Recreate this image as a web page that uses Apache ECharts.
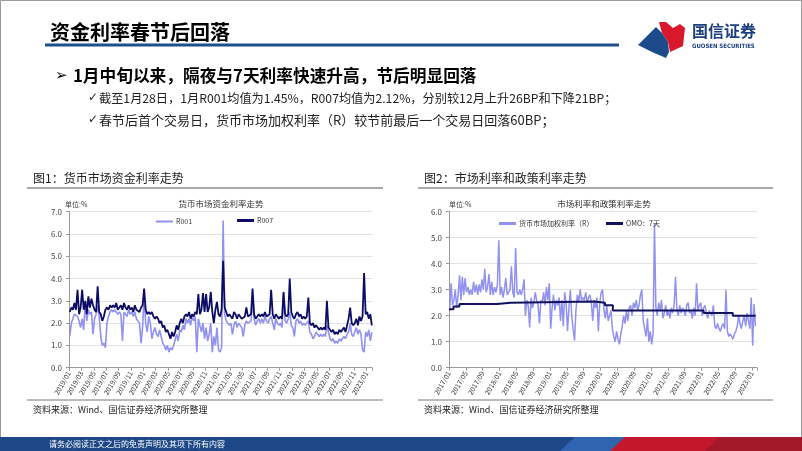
<!DOCTYPE html>
<html><head><meta charset="utf-8">
<script src="https://cdn.jsdelivr.net/npm/echarts@6/dist/echarts.min.js"></script>
<style>html,body{margin:0;padding:0;background:#fff}#c{width:802px;height:451px}</style>
</head><body><div id="c"></div>
<script>
// ---------- Data ----------
// Chart 1: 2019/01 - 2023/01, 4 readings per month
const ticks1 = ['2019/01','2019/03','2019/05','2019/07','2019/09','2019/11','2020/01','2020/03','2020/05','2020/07','2020/09','2020/11','2021/01','2021/03','2021/05','2021/07','2021/09','2021/11','2022/01','2022/03','2022/05','2022/07','2022/09','2022/11','2023/01'];
const r001 = [
 1.4,2.0,2.2,2.4, 2.4,2.3,2.1,1.8, 2.2,1.7,2.9,2.1, 2.6,2.4,2.5,1.5, 2.2,2.4,2.8,2.3, 1.4,1.0,1.1,0.9,
 2.0,2.3,2.5,2.6, 2.5,2.6,2.5,2.4, 2.5,2.4,1.2,2.5, 2.5,2.3,2.6,2.4, 2.5,2.3,2.5,2.2, 2.2,2.0,1.1,1.8,
 3.3,2.0,1.6,2.3, 2.0,1.3,1.6,1.8, 1.5,1.4,1.7,1.4, 1.1,1.0,0.8,1.0, 0.7,0.9,0.8,1.0, 1.0,1.5,1.2,1.7,
 1.6,1.9,1.7,2.2, 2.0,2.2,1.9,2.3, 2.1,2.3,0.7,2.2, 1.9,1.6,2.0,1.3, 1.8,1.2,1.5,2.0, 0.7,1.4,1.0,1.8,
 0.8,0.7,0.9,6.6, 2.4,2.1,2.0,1.9, 2.0,1.5,1.9,2.1, 1.8,2.0,1.9,1.8, 1.4,1.9,2.1,2.0, 2.0,2.1,3.0,2.2,
 1.9,2.1,2.2,2.0, 2.2,2.0,2.3,2.1, 2.0,2.2,2.3,2.0, 1.7,2.2,2.0,1.9, 2.0,1.8,3.3,2.1, 2.0,2.2,2.5,1.9,
 1.8,1.4,2.1,2.2, 2.0,2.1,1.9,2.0, 1.9,2.0,2.1,1.6, 1.5,1.3,1.4,1.6, 1.5,1.4,1.5,1.4, 1.5,1.4,1.9,1.6,
 1.3,1.2,1.3,1.1, 1.2,1.1,1.3,1.2, 1.2,1.4,1.3,1.5, 1.6,2.0,1.5,1.4, 1.6,1.8,1.5,1.7, 1.5,0.8,0.7,1.6,
 1.4,1.7,1.2,1.6
];
const r007 = [
 2.5,2.7,2.6,2.9, 2.6,3.5,2.4,2.7, 3.5,2.6,3.0,2.4, 3.2,2.7,3.1,2.8, 2.6,2.5,3.65,2.5, 2.4,2.1,2.3,2.6,
 2.7,2.6,2.8,2.7, 2.8,2.7,2.9,2.6, 2.7,2.8,2.6,2.9, 2.7,2.6,2.8,2.6, 2.7,2.5,2.8,2.6, 2.6,2.5,2.7,2.8,
 3.55,2.6,2.4,2.5, 2.4,2.5,2.3,2.2, 2.3,2.2,2.0,2.1, 1.8,1.9,1.6,1.7, 1.5,1.3,1.6,1.4, 1.6,1.9,1.7,2.0,
 2.2,2.0,2.3,2.4, 2.3,2.5,2.2,2.4, 2.3,2.5,2.4,3.3, 2.4,2.6,3.35,2.5, 3.3,2.5,2.7,3.4, 2.5,2.0,2.6,2.95,
 2.4,2.3,2.6,4.8, 2.7,2.5,2.3,2.4, 2.3,2.2,2.5,2.4, 2.2,2.4,2.3,2.2, 2.2,2.3,2.7,2.3, 2.3,2.4,3.55,2.4,
 2.2,2.3,2.4,2.3, 2.4,2.3,2.5,2.3, 2.3,2.4,3.5,2.4, 2.2,2.4,2.3,2.2, 2.3,2.2,3.4,2.4, 2.3,2.4,4.0,2.5,
 2.3,2.2,2.4,2.5, 2.3,2.4,2.2,2.3, 2.2,2.3,3.15,2.0, 1.9,2.0,1.8,1.9, 1.8,1.7,1.8,1.7, 1.8,1.7,3.0,1.8,
 1.7,1.6,1.7,1.5, 1.6,1.5,1.7,1.6, 1.7,1.8,1.6,1.9, 2.2,2.7,2.0,1.9, 2.0,2.2,1.9,2.3, 2.1,2.3,4.25,2.4,
 2.5,2.2,2.4,1.9
];
// Chart 2: 2017/01 - 2023/01, 3 readings per month
const ticks2 = ['2017/01','2017/05','2017/09','2018/01','2018/05','2018/09','2019/01','2019/05','2019/09','2020/01','2020/05','2020/09','2021/01','2021/05','2021/09','2022/01','2022/05','2022/09','2023/01'];
const rateR = [
 2.2,3.25,2.4, 2.6,3.0,2.3, 2.8,3.55,2.6, 3.5,2.8,3.45, 2.9,3.1,2.8, 3.0,2.8,3.3,
 2.9,3.2,2.8, 3.2,2.9,3.4, 3.0,3.8,2.9, 3.1,3.6,2.8, 3.3,2.8,3.1, 2.9,3.2,4.9,
 2.8,3.1,2.7, 3.0,3.45,2.8, 2.8,3.0,3.9, 2.9,2.7,4.6, 2.9,2.8,3.0, 2.8,3.0,3.4,
 2.0,2.6,2.4, 1.55,2.7,2.3, 2.5,2.9,2.6, 2.4,1.7,2.6, 2.5,2.9,2.4, 3.1,2.6,3.25,
 1.5,2.3,2.8, 2.2,2.6,2.4, 2.7,1.8,2.6, 1.6,2.9,2.5, 1.4,2.3,3.0, 2.0,1.5,1.05,
 2.2,2.8,2.5, 3.0,2.6,2.7, 2.6,2.9,2.5, 2.7,2.8,2.5, 1.8,2.6,2.3, 2.7,1.4,2.5,
 2.9,3.0,2.2, 1.9,2.4,1.8, 1.8,2.2,1.5, 1.2,1.0,1.4, 1.1,0.9,1.3, 1.6,2.0,1.7,
 2.2,1.8,2.3, 2.4,2.0,2.5, 2.3,2.6,2.2, 2.4,2.8,3.0, 1.8,1.5,1.2, 1.9,1.0,1.4,
 0.9,1.3,5.55, 2.3,2.0,2.5, 2.2,2.6,1.9, 2.1,2.4,2.0, 2.2,1.9,2.3, 2.1,2.4,3.5,
 2.2,2.0,2.4, 2.1,2.3,2.2, 2.0,2.4,2.5, 2.1,2.2,1.9, 2.3,2.0,3.25, 2.2,2.4,2.5,
 2.0,2.3,2.4, 2.1,1.9,2.2, 2.2,2.0,2.4, 1.6,1.5,1.7, 1.5,1.4,1.6, 1.7,1.5,3.0,
 1.4,1.2,1.3, 1.2,1.1,1.3, 1.4,1.6,2.0, 1.7,1.5,1.8, 2.0,1.6,2.1, 1.8,1.5,2.7,
 0.85,2.45,1.6
];
const omoDates = ['2017/01/01','2017/02/03','2017/03/16','2017/12/14','2018/03/22','2019/11/18','2020/02/03','2020/03/30','2022/01/17','2022/08/15','2023/01/28'];
const omoValues = [2.25,2.35,2.45,2.50,2.55,2.50,2.40,2.20,2.10,2.00,2.00];

// ---------- Build ----------
const FONT = '"Noto Sans CJK SC","Noto Sans",sans-serif';
function toM(s, base){ const p = s.split('/').map(Number); return (p[0]-base)*12 + (p[1]-1) + (p[2]-1)/31; }
const pts = (arr, n) => arr.map((v,i)=>[Math.floor(i/n) + ((i%n)+0.5)/n, v]);
const omoPts = omoDates.map((d,i)=>[toM(d,2017), omoValues[i]]);

function tickFmt(list, step){
  return function(v){ const k = v/step; const r = Math.round(k); return Math.abs(k-r)<1e-6 && list[r] ? list[r] : ''; };
}
function txt(x,y,text,font,fill,align){
  return {type:'text', x:x, y:y, silent:true, style:{text:text, font:font, fill:fill||'#000', align:align||'left', verticalAlign:'middle'}};
}
function ln(x1,y1,x2,y2,color,w){
  return {type:'line', silent:true, shape:{x1:x1,y1:y1,x2:x2,y2:y2}, style:{stroke:color, lineWidth:w}};
}

const C_LIGHT = '#9191f0', C_DARK = '#0c0c66';

const graphic = [
  {type:'rect', silent:true, shape:{x:0.5,y:0.5,width:801,height:450}, style:{fill:'none', stroke:'#9a9a9a', lineWidth:1}},
  txt(50,32,'资金利率春节后回落','bold 20px '+FONT,'#000'),
  ln(45,45,619,45,'#1f4e8e',3),
  {type:'polygon', silent:true, shape:{points:[[656,27],[662,33],[668,42],[669,52],[666,58],[652,52],[638,45]]}, style:{fill:'#1d4a8a'}},
  {type:'polygon', silent:true, shape:{points:[[659,22],[666,22],[673,28],[680,24],[685,28],[683,46],[670,52],[668,42],[662,33]]}, style:{fill:'#d7192b'}},
  txt(692,31,'国信证券','bold 16px '+FONT,'#1c3f7f'),
  txt(692,46,'GUOSEN SECURITIES','bold 6px "Liberation Sans Narrow","DejaVu Sans Condensed",sans-serif','#1c3f7f'),
  txt(55,76,'➢','15px "DejaVu Sans",sans-serif','#000'),
  txt(73,76,'1月中旬以来，隔夜与7天利率快速升高，节后明显回落','bold 16.7px '+FONT,'#000'),
  txt(88,98,'✓','12px "DejaVu Sans",sans-serif','#222'),
  txt(99,98,'截至1月28日，1月R001均值为1.45%，R007均值为2.12%，分别较12月上升26BP和下降21BP；','12.2px '+FONT,'#222'),
  txt(88,120,'✓','12px "DejaVu Sans",sans-serif','#222'),
  txt(99,120,'春节后首个交易日，货币市场加权利率（R）较节前最后一个交易日回落60BP；','13px '+FONT,'#222'),
  txt(33,178,'图1：货币市场资金利率走势','12px '+FONT,'#222'),
  ln(27,188,383,188,'#555',1.2),
  txt(424,178,'图2：市场利率和政策利率走势','12px '+FONT,'#222'),
  ln(418,188,773,188,'#555',1.2),
  txt(65,204,'单位:%','7px '+FONT,'#444'),
  txt(221,204,'货币市场资金利率走势','8.5px '+FONT,'#333','center'),
  txt(449,204,'单位:%','7px '+FONT,'#444'),
  txt(604,204,'市场利率和政策利率走势','8.5px '+FONT,'#333','center'),
  ln(27,400,383,400,'#777',1),
  ln(418,400,773,400,'#777',1),
  txt(33,410,'资料来源：Wind、国信证券经济研究所整理','9px '+FONT,'#222'),
  txt(424,410,'资料来源：Wind、国信证券经济研究所整理','9px '+FONT,'#222'),
  {type:'rect', silent:true, shape:{x:0,y:437,width:802,height:14}, style:{fill:'#1d4786'}},
  {type:'polygon', silent:true, shape:{points:[[575,437],[640,437],[625,451],[560,451]]}, style:{fill:'#2f64b0'}},
  {type:'polygon', silent:true, shape:{points:[[625,437],[802,437],[802,451],[610,451]]}, style:{fill:'#c4172c'}},
  {type:'polygon', silent:true, shape:{points:[[720,437],[802,437],[802,451],[705,451]]}, style:{fill:'#a3182a'}},
  txt(49,444,'请务必阅读正文之后的免责声明及其项下所有内容','8px '+FONT,'#fff')
];

function xAx(gi, max, step, list){
  return {gridIndex:gi, type:'value', min:0, max:max, interval:step,
    axisLine:{show:true, lineStyle:{color:'#999', width:1}},
    axisTick:{show:true, length:3, lineStyle:{color:'#999'}},
    splitLine:{show:false},
    axisLabel:{rotate:60, fontSize:7, color:'#333', margin:4, fontFamily:FONT, formatter:tickFmt(list, step)}};
}
function yAx(gi, max){
  return {gridIndex:gi, type:'value', min:0, max:max, interval:1,
    axisLine:{show:true, lineStyle:{color:'#999', width:1}},
    axisTick:{show:true, length:3, lineStyle:{color:'#999'}},
    splitLine:{show:true, lineStyle:{color:'#e2e2e2', width:1}},
    axisLabel:{fontSize:8, color:'#444', margin:7, fontFamily:FONT, formatter:v=>v.toFixed(1)}};
}
const legBase = {orient:'horizontal', itemWidth:17, icon:'rect', itemGap:4, padding:0, textStyle:{fontSize:7, color:'#333', fontFamily:FONT, padding:[0,0,0,-2]}};

const option = {
  animation:false,
  backgroundColor:'#fff',
  graphic:graphic,
  grid:[
    {left:69, top:211.7, width:303, height:156},
    {left:449, top:211.7, width:308, height:156}
  ],
  xAxis:[ xAx(0, 48.9, 2, ticks1), xAx(1, 73.2, 4, ticks2) ],
  yAxis:[ yAx(0, 7), yAx(1, 6) ],
  legend:[
    Object.assign({}, legBase, {data:['R001'], left:156, top:218, itemHeight:2}),
    Object.assign({}, legBase, {data:['R007'], left:237, top:217, itemHeight:3}),
    Object.assign({}, legBase, {data:['货币市场加权利率（R）'], left:499, top:220, itemHeight:3}),
    Object.assign({}, legBase, {data:['OMO：7天'], left:606, top:220, itemHeight:3})
  ],
  series:[
    {name:'R001', type:'line', xAxisIndex:0, yAxisIndex:0, data:pts(r001,4), symbol:'none', lineStyle:{color:C_LIGHT, width:1.6}, itemStyle:{color:C_LIGHT}},
    {name:'R007', type:'line', xAxisIndex:0, yAxisIndex:0, data:pts(r007,4), symbol:'none', lineStyle:{color:C_DARK, width:1.8}, itemStyle:{color:C_DARK}},
    {name:'货币市场加权利率（R）', type:'line', xAxisIndex:1, yAxisIndex:1, data:pts(rateR,3), symbol:'none', lineStyle:{color:C_LIGHT, width:1.5}, itemStyle:{color:C_LIGHT}},
    {name:'OMO：7天', type:'line', step:'end', xAxisIndex:1, yAxisIndex:1, data:omoPts, symbol:'none', lineStyle:{color:'#11115e', width:2}, itemStyle:{color:'#11115e'}}
  ]
};
const chart = echarts.init(document.getElementById('c'), null, {renderer:'canvas'});
chart.setOption(option);
</script>
</body></html>
